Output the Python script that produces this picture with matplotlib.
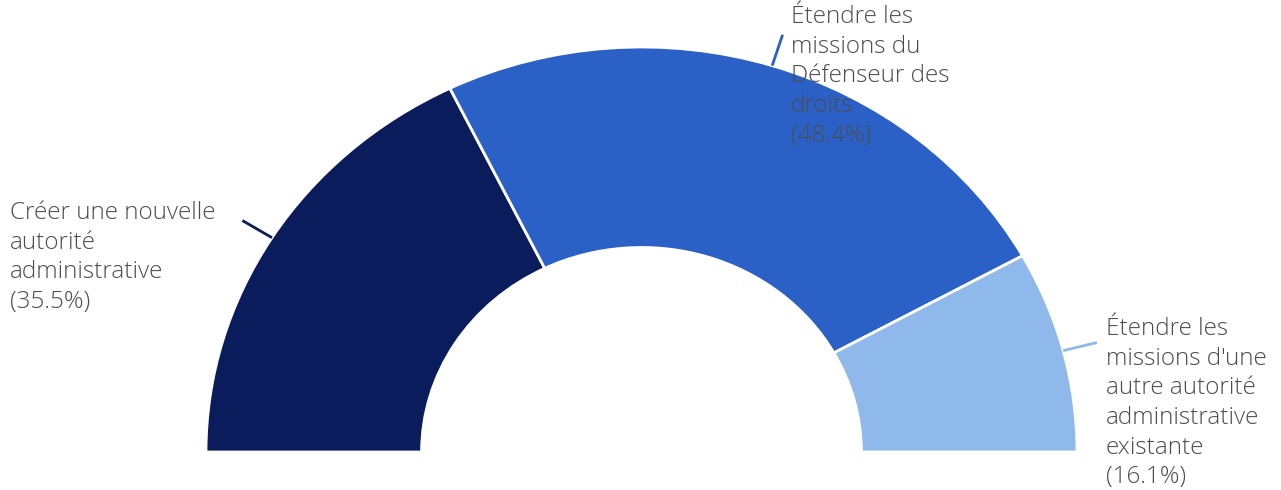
import matplotlib
matplotlib.use("Agg")
import matplotlib.pyplot as plt
import numpy as np

categories = ["Créer une nouvelle\nautorité\nadministrative",
              "Étendre les\nmissions du\nDéfenseur des\ndroits",
              "Étendre les\nmissions d'une\nautre autorité\nadministrative\nexistante"]
values = [35.5, 48.4, 16.1]
colors = ["#0a1c5c", "#2b60c6", "#8fb9ea"]

W, H = 1281, 490
fig = plt.figure(figsize=(W / 100, H / 100), dpi=100)
ax = fig.add_axes([0, 0, 1, 1])

# pixel <-> data mapping (chart is slightly horizontally stretched)
cx, cy, rx, ry = 641.5, 452.0, 435.5, 405.0
def px(x, y):
    return ((x - cx) / rx, (cy - y) / ry)

wedges, _ = ax.pie(values + [sum(values)], colors=colors + ["none"],
                   startangle=180, counterclock=False, radius=1.0,
                   wedgeprops=dict(width=0.495, edgecolor="white", linewidth=2))
wedges[-1].set_visible(False)
ax.set_aspect("auto")
x0, y0 = px(0, H)
x1, y1 = px(W, 0)
ax.set_xlim(x0, x1)
ax.set_ylim(y0, y1)
ax.axis("off")

label_pos = [(10, 201), (791, 5), (1106, 317)]
for w, cat, val, col, (tx, ty) in zip(wedges[:3], categories, values, colors, label_pos):
    ang = np.deg2rad((w.theta1 + w.theta2) / 2)
    ax.plot([np.cos(ang), 1.08 * np.cos(ang)], [np.sin(ang), 1.08 * np.sin(ang)],
            color=col, lw=2, solid_capstyle="butt")
    X, Y = px(tx, ty)
    ax.text(X, Y, f"{cat}\n({val}%)", ha="left", va="top", fontsize=17.5,
            family=["Open Sans", "DejaVu Sans"], fontweight="light", color="#4d4d4d",
            linespacing=1.315, zorder=10)

fig.savefig("out.png", dpi=100)
